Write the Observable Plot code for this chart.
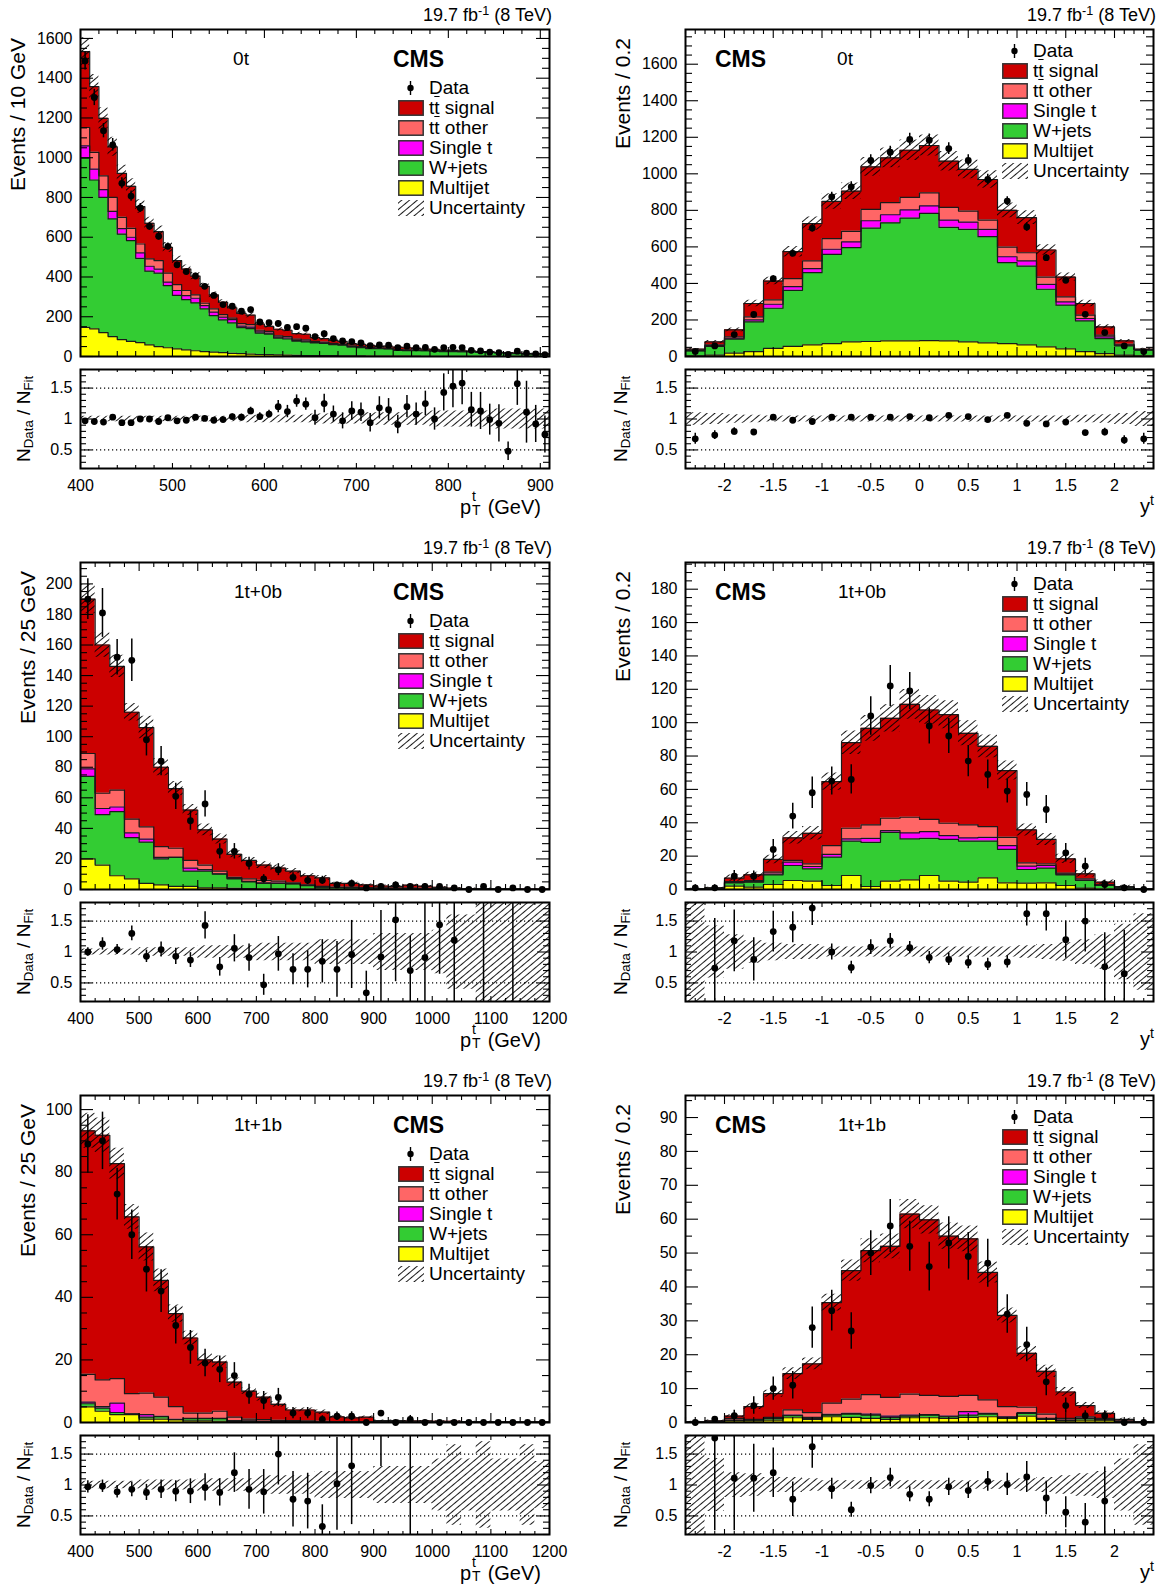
<!DOCTYPE html>
<html><head><meta charset="utf-8">
<script src="https://cdn.jsdelivr.net/npm/d3@7"></script>
<script src="https://cdn.jsdelivr.net/npm/@observablehq/plot@0.6"></script>
<style>
body{margin:0;background:#fff;}
#page{position:relative;width:1163px;height:1589px;overflow:hidden;font-family:'Liberation Sans',Arial,Helvetica,sans-serif;color:#000;background:#fff;}
.abs{position:absolute;white-space:nowrap;line-height:1;}
.vt{position:absolute;writing-mode:vertical-rl;transform:rotate(180deg);white-space:nowrap;line-height:1;}
.ob{text-decoration:overline;}
svg.plot{position:absolute;}
</style></head><body>
<svg width="0" height="0" style="position:absolute"><defs>
<pattern id="hatch" patternUnits="userSpaceOnUse" width="5" height="10" patternTransform="rotate(50)"><line x1="2.5" y1="0" x2="2.5" y2="10" stroke="#000" stroke-width="0.9"/></pattern>
</defs></svg>
<div id="page"></div>
<script>
// ---------- tick labels ----------
const xTicksPt1 = [400,500,600,700,800,900];
const xTicksPt = [400,500,600,700,800,900,1000,1100,1200];
const xTicksY = [-2,-1.5,-1,-0.5,0,0.5,1,1.5,2];
const yTicks1 = [0,200,400,600,800,1000,1200,1400,1600];
const yTicks3 = [0,20,40,60,80,100,120,140,160,180,200];
const yTicks4 = [0,20,40,60,80,100,120,140,160,180];
const yTicks5 = [0,20,40,60,80,100];
const yTicks6 = [0,10,20,30,40,50,60,70,80,90];
const rTicks = [0.5,1,1.5];

// ---------- panel 1: 0t, pT (cumulative stack tops) ----------
const mj1 = [147,139,120,100,85,76,70,58,50,44,38,33,29,25,22,19,16,14,12,10,9,8,7,6,5,5,4,4,3,3,3,2,2,2,2,2,2,1,1,1,1,1,1,1,1,1,1,1,1,1,1];
const wj1 = [998,888,800,692,616,583,494,429,419,357,307,286,270,240,206,184,169,145,140,118,113,92,88,77,74,68,66,60,57,48,45,40,39,38,31,30,30,29,28,25,25,24,24,20,20,19,14,14,13,13,12];
const st1 = [1060,943,839,730,643,600,521,454,440,374,332,306,293,256,223,198,186,153,148,124,118,97,93,81,78,71,69,63,60,50,47,42,41,40,33,32,31,30,29,26,26,25,25,21,21,19.3,15,15,14,13,12.1];
const tto1 = [1152,1027,909,800,700,645,566,491,482,419,362,332,310,268,240,211,193,165,160,132,126,104,100,87,84,76,73,66,63,53,50,45,43,42,35,34,33,31,30,27,27,26,26,22,21.5,19.5,16,15.5,14.5,13.3,12.2];
const tot1 = [1534,1358,1198,1055,921,856,754,670,628,549,482,440,404,353,310,273,245,217,208,163,152,137,132,115,112,95,90,81,76,64,61,56,51,49,47,44,41,37,36,32,30,29,27,25,22,20,20,17,15,14,12.5];
const data1 = [1487,1303,1136,1065,871,807,747,655,605,554,461,427,405,353,307,261,253,228,236,174,170,166,146,150,142,100,115,90,78,75,68,55,58,57,45,52,44,46,36,45,46,45,31,28,22,19,10,27,17,13,9];
const ratio1 = [0.97,0.96,0.95,1.03,0.94,0.94,1.0,1.0,0.96,1.02,0.97,0.98,1.03,1.01,0.98,0.99,1.04,1.03,1.13,1.04,1.08,1.2,1.12,1.29,1.24,1.02,1.25,1.08,0.97,1.13,1.11,0.94,1.18,1.15,0.91,1.2,1.08,1.25,1.0,1.43,1.53,1.58,1.15,1.13,0.99,0.93,0.48,1.57,1.11,0.92,0.75];
const rerr1 = [0.03,0.03,0.03,0.03,0.03,0.03,0.03,0.03,0.03,0.03,0.03,0.03,0.035,0.035,0.035,0.04,0.04,0.05,0.06,0.06,0.06,0.1,0.1,0.1,0.1,0.12,0.15,0.13,0.13,0.15,0.15,0.15,0.18,0.18,0.15,0.18,0.18,0.2,0.18,0.3,0.35,0.35,0.28,0.3,0.25,0.3,0.15,0.35,0.5,0.3,0.3];
const unc1 = [0.045,0.045,0.045,0.045,0.045,0.045,0.045,0.045,0.045,0.045,0.045,0.045,0.045,0.045,0.045,0.045,0.045,0.045,0.06,0.06,0.06,0.06,0.06,0.06,0.06,0.08,0.08,0.08,0.08,0.08,0.08,0.1,0.1,0.1,0.1,0.1,0.1,0.1,0.13,0.13,0.13,0.13,0.13,0.13,0.13,0.16,0.16,0.16,0.16,0.16,0.16];

// ---------- panel 2: 0t, y ----------
const mj2 = [3,7,18,27,44,55,64,71,80,82,86,86,87,86,80,75,71,64,53,42,27,16,7,4];
const wj2 = [30,55,95,190,264,362,459,559,596,703,732,758,783,707,696,656,514,495,368,281,195,98,58,35];
const st2 = [32,60,100,200,286,383,481,587,628,743,776,803,825,747,736,696,546,523,395,299,208,107,62,37];
const tto2 = [35,64,107,217,310,426,523,645,685,805,842,871,896,816,796,747,599,568,435,326,226,117,67,38];
const tot2 = [40,80,146,290,413,574,727,849,905,1038,1087,1129,1155,1069,1024,969,800,760,583,435,290,162,86,40];
const data2 = [28,58,120,230,426,565,703,874,929,1073,1118,1188,1184,1138,1073,969,851,709,541,417,231,131,58,27];
const ratio2 = [0.68,0.74,0.8,0.79,1.03,0.98,0.96,1.03,1.03,1.03,1.03,1.04,1.02,1.06,1.04,0.99,1.06,0.93,0.92,0.95,0.78,0.79,0.66,0.68];
const rerr2 = [0.09,0.07,0.06,0.04,0.04,0.03,0.03,0.03,0.03,0.03,0.03,0.03,0.03,0.03,0.03,0.03,0.03,0.03,0.03,0.04,0.04,0.06,0.07,0.09];
const unc2 = [0.1,0.09,0.07,0.06,0.05,0.05,0.05,0.05,0.05,0.05,0.05,0.05,0.05,0.05,0.05,0.05,0.05,0.05,0.05,0.05,0.06,0.07,0.09,0.12];

// ---------- panel 3: 1t+0b, pT ----------
const mj3 = [20,16,9,7,4,3,2,2,1,1,0.8,0.6,0.5,0.4,0.3,0.3,0.2,0.15,0.12,0.1,0.1,0.08,0.06,0.05,0.05,0.04,0.03,0.03,0.02,0.02,0.02,0.01];
const wj3 = [74,49,51,34,31,20,21,12,12,10,7,5,4,4,3.7,2.6,1.5,1.2,1.1,0.9,0.75,0.65,0.65,0.55,0.45,0.3,0.22,0.18,0.13,0.1,0.08,0.07];
const st3 = [79,53,54,37,33,21,21,14,13,10.3,7.3,5.3,4.3,4.2,3.9,2.7,1.6,1.3,1.2,1.0,0.8,0.7,0.7,0.6,0.5,0.33,0.25,0.2,0.15,0.12,0.1,0.08];
const tto3 = [89,63,65,46,41,28,27,19,16,12,8,7,6,5.5,4.4,3,2,1.6,1.5,1.2,1.0,0.9,0.9,0.8,0.6,0.4,0.3,0.25,0.2,0.15,0.12,0.1];
const tot3 = [190,160,146,116,106,80,66,52,39,33,23,19,16,14,12,9,7.6,4.0,4.0,3.0,2.3,2.0,2.8,2.2,1.4,0.85,0.6,0.5,0.4,0.35,0.3,0.25];
const data3 = [190,181,152,150,98,84,61,45,56,25,25,17,7,13,8,6,6,3,4,1,2,3,2,2,2,1,0,2,0,1,0,0];
const ratio3 = [1.0,1.13,1.04,1.3,0.93,1.04,0.93,0.87,1.43,0.76,1.06,0.91,0.47,0.97,0.72,0.72,0.85,0.72,0.96,0.34,0.92,1.52,0.7,0.91,1.44,1.19,null,2.5,null,3.0,null,null];
const rerr3 = [0.07,0.1,0.08,0.12,0.1,0.12,0.13,0.12,0.22,0.15,0.22,0.22,0.17,0.28,0.25,0.3,0.35,0.45,0.55,0.35,0.75,1.0,0.55,0.9,0.8,1.0,0,2.5,0,3.0,0,0];
const unc3 = [0.05,0.05,0.05,0.05,0.07,0.07,0.07,0.07,0.1,0.1,0.1,0.1,0.14,0.14,0.14,0.14,0.2,0.2,0.2,0.2,0.3,0.3,0.3,0.3,0.35,0.6,0.6,1.0,1.0,1.0,1.0,1.0];

// ---------- panel 4: 1t+0b, y ----------
const mj4 = [0.1,0.3,2,1.4,3,5.4,5,2.4,8.4,1.8,5,5.8,8.4,5,4.4,7,4,3.8,4,2.4,0.8,0.3,0.2,0.1];
const wj4 = [0.3,0.7,4,4.4,8.8,14.4,12.4,19.4,29,28.3,34.3,30.3,30.7,30,29,29,24,12,12.8,8.8,5.4,2.4,1,0.3];
const st4 = [0.3,0.75,4.3,4.7,9.3,16.4,13.8,21,30.3,30.7,35.3,34,34.7,32.3,31,31.3,26.3,14,14.4,9.2,5.7,2.6,1.1,0.3];
const tto4 = [0.35,0.85,4.8,5.4,10.4,17.4,15.4,26.3,36.7,38.7,42.7,43.3,42,39.7,38.7,37.7,31.3,16,15.4,9.8,6.4,3,1.3,0.35];
const tot4 = [0.4,1,6.8,8.8,18,31,33.7,64.7,88,96.6,102.6,111,107.6,104.8,93.6,85.8,71.3,35.7,30,18.4,9.4,4.4,1.8,0.4];
const data4 = [1,1,8,8,24,44,58,65,66,104,122,119,98,92,77,69,59,57,48,22,14,3,1,0];
const ratio4 = [null,0.74,1.18,0.88,1.33,1.4,1.71,1.0,0.75,1.08,1.18,1.07,0.91,0.88,0.83,0.8,0.84,1.62,1.62,1.2,1.5,0.76,0.65,null];
const rerr4 = [0,0.8,0.5,0.35,0.33,0.25,0.28,0.13,0.1,0.12,0.12,0.1,0.1,0.1,0.1,0.1,0.1,0.2,0.28,0.3,0.5,0.55,0.7,0];
const unc4 = [1.0,0.42,0.28,0.18,0.14,0.12,0.12,0.08,0.08,0.08,0.08,0.08,0.08,0.08,0.08,0.08,0.08,0.1,0.12,0.15,0.2,0.28,0.45,0.62];

// ---------- panel 5: 1t+1b, pT ----------
const mj5 = [5.0,3.6,2.5,2.5,1.1,1.1,0.9,0.5,0.5,0.4,0.3,0.2,0.2,0.1,0.1,0.1,0.1,0.05,0.05,0.05,0.05,0.05,0.05,0.05,0.02,0.02,0.02,0.02,0.02,0.02,0.02,0.02];
const wj5 = [6.0,4.6,3.2,2.7,1.7,1.9,0.9,1.2,1.2,1.2,0.5,0.4,0.3,0.2,0.2,0.2,0.1,0.1,0.1,0.1,0.08,0.08,0.08,0.08,0.05,0.05,0.05,0.05,0.05,0.05,0.05,0.05];
const st5 = [6.5,5.1,6.2,2.8,2.5,2.0,1.0,1.3,1.3,1.3,0.6,0.5,0.35,0.25,0.2,0.2,0.15,0.12,0.12,0.12,0.1,0.1,0.1,0.1,0.07,0.07,0.07,0.07,0.06,0.06,0.06,0.06];
const tto5 = [15.4,13.6,14.0,9.2,9.4,8.1,5.1,3.0,3.0,3.6,1.7,1.1,0.9,0.7,0.6,0.5,0.4,0.3,0.3,0.3,0.25,0.25,0.2,0.2,0.15,0.15,0.15,0.12,0.12,0.1,0.1,0.1];
const tot5 = [93.2,91.8,82.7,65.7,56.1,45.4,34.8,27.0,20.0,19.3,12.9,10.0,8.1,5.8,4.0,4.0,3.3,1.8,1.5,1.7,0.6,0.6,0.5,0.5,0.4,0.4,0.3,0.3,0.3,0.2,0.2,0.2];
const data5 = [89,90,73,60,49,42,31,24,19,17,15,9,7,8,3,3,1,2,2,0,3,0,1,0,0,0,0,0,0,0,0,0];
const ratio5 = [0.97,0.98,0.89,0.93,0.88,0.93,0.9,0.9,0.96,0.88,1.2,0.93,0.89,1.5,0.77,0.74,0.33,1.02,1.31,null,2.2,null,2.5,null,null,null,null,null,null,null,null,null];
const rerr5 = [0.1,0.1,0.1,0.12,0.13,0.15,0.17,0.2,0.22,0.22,0.32,0.32,0.36,0.5,0.45,0.45,0.35,0.75,0.95,0,0.9,0,2.5,0,0,0,0,0,0,0,0,0];
const unc5 = [0.06,0.06,0.06,0.06,0.08,0.08,0.08,0.08,0.1,0.1,0.1,0.1,0.15,0.15,0.15,0.15,0.22,0.22,0.22,0.22,0.3,0.3,0.3,0.3,0.42,0.65,0.42,0.7,0.42,0.42,0.65,0.38];

// ---------- panel 6: 1t+1b, y ----------
const mj6 = [0.1,0.2,0.5,0.5,0.7,1.4,0.9,1.7,1.5,1.2,0.9,1.4,1.4,1.2,1.5,1.7,1.2,1.9,0.9,0.5,0.7,0.7,0.2,0.1];
const wj6 = [0.1,0.3,0.6,0.7,1.2,2.0,1.2,2.2,2.5,2.2,1.5,1.9,2.2,1.7,2.2,2.5,1.5,2.7,1.0,0.6,1.2,0.8,0.3,0.1];
const st6 = [0.1,0.3,0.7,0.8,1.3,2.2,1.5,2.4,2.7,2.5,1.9,2.2,2.3,1.9,3.2,2.7,1.7,2.9,1.2,0.7,1.3,0.9,0.3,0.1];
const tto6 = [0.15,0.4,1.2,0.9,1.5,3.7,2.9,5.7,6.9,8.2,7.4,8.4,8.0,7.7,8.0,6.7,4.7,4.5,2.5,1.2,1.7,1.2,0.5,0.15];
const tot6 = [0.2,0.5,1.9,4.7,8.5,14.4,17.3,35.4,44.8,50.7,52,61.5,59.8,55,54.2,44.3,31.6,20.4,15.1,9,5,2.7,0.9,0.2];
const data6 = [0,1,2,5,10,11,28,33,27,50,58,52,46,53,49,47,32,23,12,5,2,2,0,0];
const ratio6 = [null,1.76,1.11,1.11,1.2,0.77,1.62,0.94,0.6,0.99,1.12,0.85,0.77,0.97,0.91,1.06,1.01,1.13,0.79,0.56,0.4,0.74,null,null];
const rerr6 = [0,1.5,0.85,0.55,0.4,0.28,0.35,0.17,0.12,0.13,0.15,0.12,0.12,0.14,0.13,0.16,0.18,0.25,0.27,0.25,0.3,0.55,0,0];
const unc6 = [1.0,0.43,0.2,0.18,0.12,0.12,0.1,0.07,0.07,0.07,0.07,0.07,0.07,0.07,0.07,0.07,0.07,0.1,0.12,0.15,0.18,0.22,0.42,0.65];

// ---------- layout & style ----------
const FONT = "'Liberation Sans', Arial, Helvetica, sans-serif";
const COLORS = {tts:"#cc0000", tto:"#ff6666", st:"#ff00ff", wj:"#33cc33", mj:"#ffff00"};
const ROWS = [0, 533, 1066];
const COLS = [{left:80, right:549}, {left:685, right:1153}];
const page = document.getElementById("page");

const panels = [
 {row:0,col:0,lo:400,w:10,xdom:[400,910],ymax:1645,yTicks:yTicks1,yMin:50,xTicks:xTicksPt1,xMin:20,mj:mj1,wj:wj1,st:st1,tto:tto1,tot:tot1,data:data1,ratio:ratio1,rerr:rerr1,unc:unc1,ytitle:"Events / 10 GeV",tag:"0t",kind:"pt"},
 {row:0,col:1,lo:-2.4,w:0.2,xdom:[-2.4,2.4],ymax:1790,yTicks:yTicks1,yMin:50,xTicks:xTicksY,xMin:0.1,mj:mj2,wj:wj2,st:st2,tto:tto2,tot:tot2,data:data2,ratio:ratio2,rerr:rerr2,unc:unc2,ytitle:"Events / 0.2",tag:"0t",kind:"y"},
 {row:1,col:0,lo:400,w:25,xdom:[400,1200],ymax:214,yTicks:yTicks3,yMin:5,xTicks:xTicksPt,xMin:25,mj:mj3,wj:wj3,st:st3,tto:tto3,tot:tot3,data:data3,ratio:ratio3,rerr:rerr3,unc:unc3,ytitle:"Events / 25 GeV",tag:"1t+0b",kind:"pt"},
 {row:1,col:1,lo:-2.4,w:0.2,xdom:[-2.4,2.4],ymax:196,yTicks:yTicks4,yMin:5,xTicks:xTicksY,xMin:0.1,mj:mj4,wj:wj4,st:st4,tto:tto4,tot:tot4,data:data4,ratio:ratio4,rerr:rerr4,unc:unc4,ytitle:"Events / 0.2",tag:"1t+0b",kind:"y"},
 {row:2,col:0,lo:400,w:25,xdom:[400,1200],ymax:104.5,yTicks:yTicks5,yMin:5,xTicks:xTicksPt,xMin:25,mj:mj5,wj:wj5,st:st5,tto:tto5,tot:tot5,data:data5,ratio:ratio5,rerr:rerr5,unc:unc5,ytitle:"Events / 25 GeV",tag:"1t+1b",kind:"pt"},
 {row:2,col:1,lo:-2.4,w:0.2,xdom:[-2.4,2.4],ymax:96.5,yTicks:yTicks6,yMin:5,xTicks:xTicksY,xMin:0.1,mj:mj6,wj:wj6,st:st6,tto:tto6,tot:tot6,data:data6,ratio:ratio6,rerr:rerr6,unc:unc6,ytitle:"Events / 0.2",tag:"1t+1b",kind:"y"}
];

function minorTicks(a, b, step, majors) {
  return d3.range(a, b + step * 0.01, step)
    .map(v => +v.toFixed(6))
    .filter(v => v >= a - 1e-9 && v <= b + 1e-9 && !majors.some(m => Math.abs(m - v) < step * 0.01));
}

function frameTicks(xMaj, xMin, yMaj, yMin, fw, fh, lyM, lym, lxM, lxm) {
  const s = {stroke:"#000", strokeWidth:1.1};
  return [
    Plot.tickY(yMaj, {y:d=>d, insetRight: fw - lyM, ...s}),
    Plot.tickY(yMaj, {y:d=>d, insetLeft: fw - lyM, ...s}),
    Plot.tickY(yMin, {y:d=>d, insetRight: fw - lym, ...s}),
    Plot.tickY(yMin, {y:d=>d, insetLeft: fw - lym, ...s}),
    Plot.tickX(xMaj, {x:d=>d, insetBottom: fh - lxM, ...s}),
    Plot.tickX(xMaj, {x:d=>d, insetTop: fh - lxM, ...s}),
    Plot.tickX(xMin, {x:d=>d, insetBottom: fh - lxm, ...s}),
    Plot.tickX(xMin, {x:d=>d, insetTop: fh - lxm, ...s})
  ];
}

function addHTML(cls, html, css) {
  const d = document.createElement("div");
  d.className = cls;
  d.innerHTML = html;
  Object.assign(d.style, css);
  page.appendChild(d);
  return d;
}

function place(svg, left, top) {
  svg.classList.add("plot");
  svg.style.left = left + "px";
  svg.style.top = top + "px";
  page.appendChild(svg);
}

function addLegend(x, y) {
  const items = [
    ["data", null, "Data"],
    ["box", COLORS.tts, "t<span class='ob'>t</span> signal"],
    ["box", COLORS.tto, "t<span class='ob'>t</span> other"],
    ["box", COLORS.st, "Single t"],
    ["box", COLORS.wj, "W+jets"],
    ["box", COLORS.mj, "Multijet"],
    ["hatch", null, "Uncertainty"]
  ];
  items.forEach(([kind, color, label], k) => {
    const cy = y + k * 20;
    let sw;
    if (kind === "data") sw = `<svg width="26" height="16"><line x1="12.5" y1="1" x2="12.5" y2="15" stroke="#000" stroke-width="1.4"/><circle cx="12.5" cy="8" r="3.2" fill="#000"/></svg>`;
    else if (kind === "box") sw = `<svg width="26" height="16"><rect x="0.8" y="0.8" width="24.4" height="14.4" fill="${color}" stroke="#333" stroke-width="1.5"/></svg>`;
    else sw = `<svg width="26" height="16"><rect x="0" y="0" width="26" height="16" fill="url(#hatch)"/></svg>`;
    addHTML("abs", sw, {left: x + "px", top: (cy - 8) + "px"});
    addHTML("abs", label, {left: (x + 31) + "px", top: (cy - 10) + "px", fontSize: "19px"});
  });
}

function buildPanel(p) {
  const col = COLS[p.col], R = ROWS[p.row];
  const fw = col.right - col.left;
  const FHM = 327, FHR = 99, ML = 62, MR = 8, MT = 6, MB = 6, MBR = 38;
  const topM = R + 29, topR = R + 369;
  const n = p.tot.length;
  const edge = i => p.lo + i * p.w;
  const mid = i => p.lo + (i + 0.5) * p.w;
  const stepRows = (lowF, upF) => {
    const rows = [];
    for (let i = 0; i < n; i++) {
      const a = lowF(i), b = upF(i);
      rows.push({x: edge(i), a, b}, {x: edge(i + 1), a, b});
    }
    return rows;
  };
  const layers = [[null, p.mj, COLORS.mj], [p.mj, p.wj, COLORS.wj], [p.wj, p.st, COLORS.st], [p.st, p.tto, COLORS.tto], [p.tto, p.tot, COLORS.tts]];
  const areas = layers.map(([lo, up, c]) => Plot.areaY(stepRows(i => lo ? lo[i] : 0, i => up[i]), {x:"x", y1:"a", y2:"b", fill:c, clip:true}));
  const outlines = layers.map(([lo, up]) => Plot.line(stepRows(i => 0, i => up[i]), {x:"x", y:"b", stroke:"#1a1a1a", strokeWidth:1.2, clip:true}));
  const band = Plot.areaY(stepRows(i => p.tot[i] * (1 - p.unc[i]), i => p.tot[i] * (1 + p.unc[i])), {x:"x", y1:"a", y2:"b", fill:"url(#hatch)", clip:true});
  const dataRows = p.data.map((v, i) => ({x: mid(i), v, e: p.ratio[i] == null ? 0 : p.rerr[i] * p.tot[i]}));
  const xMinor = minorTicks(p.xdom[0], p.xdom[1], p.xMin, p.xTicks);
  const yMinor = minorTicks(0, p.ymax, p.yMin, p.yTicks);

  const main = Plot.plot({
    width: fw + ML + MR, height: FHM + MT + MB,
    marginLeft: ML, marginRight: MR, marginTop: MT, marginBottom: MB,
    x: {domain: p.xdom, axis: null},
    y: {domain: [0, p.ymax]},
    style: {fontFamily: FONT, fontSize: "16px", color: "#000", background: "none", overflow: "visible"},
    marks: [
      ...areas, ...outlines, band,
      Plot.ruleX(dataRows.filter(d => d.e > 0), {x:"x", y1: d => Math.max(0, d.v - d.e), y2: d => d.v + d.e, stroke:"#000", strokeWidth:1.5, clip:true}),
      Plot.dot(dataRows, {x:"x", y:"v", r:3.4, fill:"#000", stroke:"none"}),
      Plot.axisY(p.yTicks, {tickSize:0, tickPadding:8, tickFormat: d => String(d), label:null, fontSize:16}),
      ...frameTicks(p.xTicks, xMinor, p.yTicks, yMinor, fw, FHM, 13, 7, 9, 5),
      Plot.frame({stroke:"#000", strokeWidth:2})
    ]
  });
  place(main, col.left - ML, topM - MT);

  const rRows = p.ratio.map((r, i) => ({x: mid(i), r, e: p.rerr[i]})).filter(d => d.r != null);
  const rMinor = minorTicks(0.2, 1.8, 0.1, rTicks);
  const ratio = Plot.plot({
    width: fw + ML + MR, height: FHR + MT + MBR,
    marginLeft: ML, marginRight: MR, marginTop: MT, marginBottom: MBR,
    x: {domain: p.xdom},
    y: {domain: [0.2, 1.8]},
    style: {fontFamily: FONT, fontSize: "16px", color: "#000", background: "none", overflow: "visible"},
    marks: [
      Plot.areaY(stepRows(i => 1 - p.unc[i], i => 1 + p.unc[i]), {x:"x", y1:"a", y2:"b", fill:"url(#hatch)", clip:true}),
      Plot.ruleY([0.5, 1.5], {stroke:"#000", strokeWidth:1.2, strokeDasharray:"1.2,2.8"}),
      Plot.ruleX(rRows.filter(d => d.e > 0), {x:"x", y1: d => d.r - d.e, y2: d => d.r + d.e, stroke:"#000", strokeWidth:1.5, clip:true}),
      Plot.dot(rRows, {x:"x", y:"r", r:3.4, fill:"#000", stroke:"none", clip:true}),
      Plot.axisX(p.xTicks, {tickSize:0, tickPadding:11, tickFormat: d => String(d), label:null, fontSize:16}),
      Plot.axisY(rTicks, {tickSize:0, tickPadding:8, tickFormat: d => String(d), label:null, fontSize:16}),
      ...frameTicks(p.xTicks, xMinor, rTicks, rMinor, fw, FHR, 12, 6, 5, 3),
      Plot.frame({stroke:"#000", strokeWidth:2})
    ]
  });
  place(ratio, col.left - ML, topR - MT);

  // texts
  addHTML("abs", "19.7 fb<sup style='font-size:0.7em;vertical-align:0.5em;line-height:0'>-1</sup> (8 TeV)",
    {left: (col.right + 3) + "px", top: (R + 6) + "px", fontSize: "18px", transform: "translateX(-100%)"});
  const isL = p.col === 0;
  addHTML("abs", "CMS", {left: (isL ? 393 : 715) + "px", top: (R + 48) + "px", fontSize: "23px", fontWeight: "bold"});
  const tagX = isL ? (p.tag === "0t" ? 241 : 258) : (p.tag === "0t" ? 845 : 862);
  addHTML("abs", p.tag, {left: tagX + "px", top: (R + 49) + "px", fontSize: "19px", transform: "translateX(-50%)"});
  addLegend(isL ? 398 : 1002, R + (isL ? 88 : 51));
  const ytX = isL ? (p.row === 0 ? 7 : 17) : 612;
  addHTML("vt", p.ytitle, {left: ytX + "px", top: (R + 38) + "px", height: "300px", textAlign: "end", fontSize: "21px"});
  addHTML("vt", "N<sub style='font-size:0.7em'>Data</sub> / N<sub style='font-size:0.7em'>Fit</sub>",
    {left: (isL ? 14 : 611) + "px", top: topR + "px", height: FHR + "px", textAlign: "center", fontSize: "19px"});
  if (p.kind === "pt") {
    addHTML("abs", "p<span style='display:inline-block;position:relative;width:0.55em;height:1em;'><span style='position:absolute;left:1px;top:-0.38em;font-size:0.7em'>t</span><span style='position:absolute;left:1px;top:0.62em;font-size:0.7em'>T</span></span> (GeV)",
      {left: (col.right - 8) + "px", top: (R + 494) + "px", fontSize: "20px", transform: "translateX(-100%)"});
  } else {
    addHTML("abs", "y<sup style='font-size:0.7em;vertical-align:0.55em;line-height:0'>t</sup>",
      {left: (col.right + 1) + "px", top: (R + 496) + "px", fontSize: "20px", transform: "translateX(-100%)"});
  }
}

panels.forEach(buildPanel);
</script>
</body></html>
